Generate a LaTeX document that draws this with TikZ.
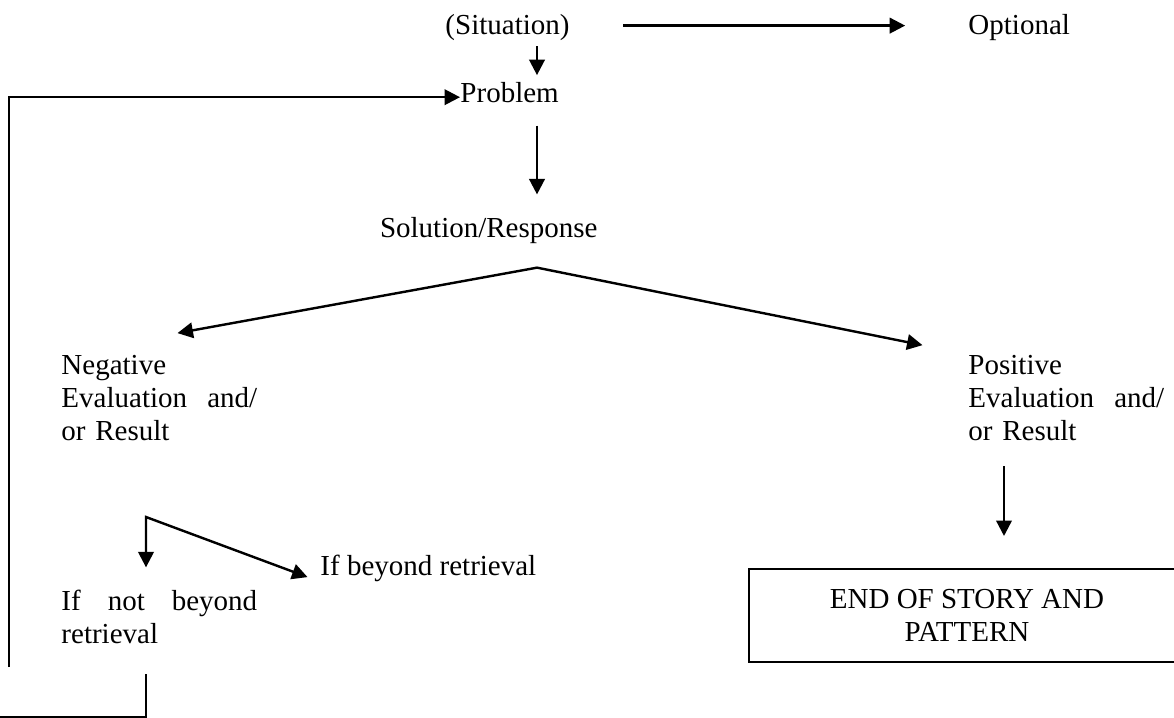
\documentclass[tikz,border=0pt]{standalone}
\usepackage{fontspec}
\setmainfont{Liberation Serif}
\usetikzlibrary{arrows.meta}

\tikzset{
  lbl/.style={inner sep=0pt, anchor=base west, font=\fontsize{12}{13.8}\selectfont},
  para/.style={lbl, text width=81pt, align=left},
  ln/.style={line width=1pt},
  arr/.style={ln, -{Triangle[length=6.4pt,width=6.4pt]}},
  fork/.style={ln, {Triangle[length=6.4pt,width=6.4pt]}-{Triangle[length=6.4pt,width=6.4pt]}},
  endbox/.style={draw, line width=0.9pt, inner sep=0pt, align=center,
    minimum width=180.4pt, minimum height=38.5pt, font=\fontsize{12}{13.8}\selectfont}
}

\begin{document}
\begin{tikzpicture}[x=0.4138pt, y=-0.4138pt]
  \clip (0,0) rectangle (1174,718);

  \node[lbl] (sit) at (445,35) {(Situation)};
  \node[lbl] (opt) at (968,35) {Optional};
  \node[lbl] (prob) at (460,103) {Problem};
  \node[lbl, anchor=base east] (sol) at (598,238) {Solution/Response};
  \node[para] (neg) at (61,374) {Negative\\ Evaluation\hfill and/\\ or Result};
  \node[para] (pos) at (968,374) {Positive\\ Evaluation\hfill and/\\ or Result};
  \node[lbl] (far) at (320,575) {If beyond retrieval};
  \node[para] (near) at (61,610) {If\hfill not\hfill beyond\\ retrieval};
  \node[endbox] (end) at (967,615.5) {END OF STORY AND\\ PATTERN};

  \coordinate (spine) at (537,0);
  \coordinate (split) at (146,517);
  \coordinate (drop) at (1004,0);
  \coordinate (back) at (9,667);
  \coordinate (exit) at (0,717);
  \path (sol.south -| spine) ++(0,23) coordinate (apex);

  \draw[arr, shorten <=22pt, shorten >=26pt] ([yshift=1pt]sit.east) -- ([yshift=1pt]opt.west);
  \draw[arr, shorten <=2pt, shorten >=3pt] (sit.south -| spine) -- (prob.north -| spine);
  \draw[arr, shorten <=9pt, shorten >=9.5pt] (prob.south -| spine) -- (sol.north -| spine);
  \draw[fork, shorten <=49pt, shorten >=19.2pt] (neg.north west) -- (apex) -- (pos.north west);
  \draw[arr, shorten <=10.3pt, shorten >=13.2pt] (pos.south -| drop) -- (end.north -| drop);
  \draw[fork, shorten <=9pt, shorten >=5.5pt] (near.north -| split) -- (split) -- (far.south west);
  \draw[arr] (back) |- ([yshift=-1.7pt]prob.west);
  \draw[ln] (near.south -| split) ++(0,30) |- (exit);
\end{tikzpicture}
\end{document}
